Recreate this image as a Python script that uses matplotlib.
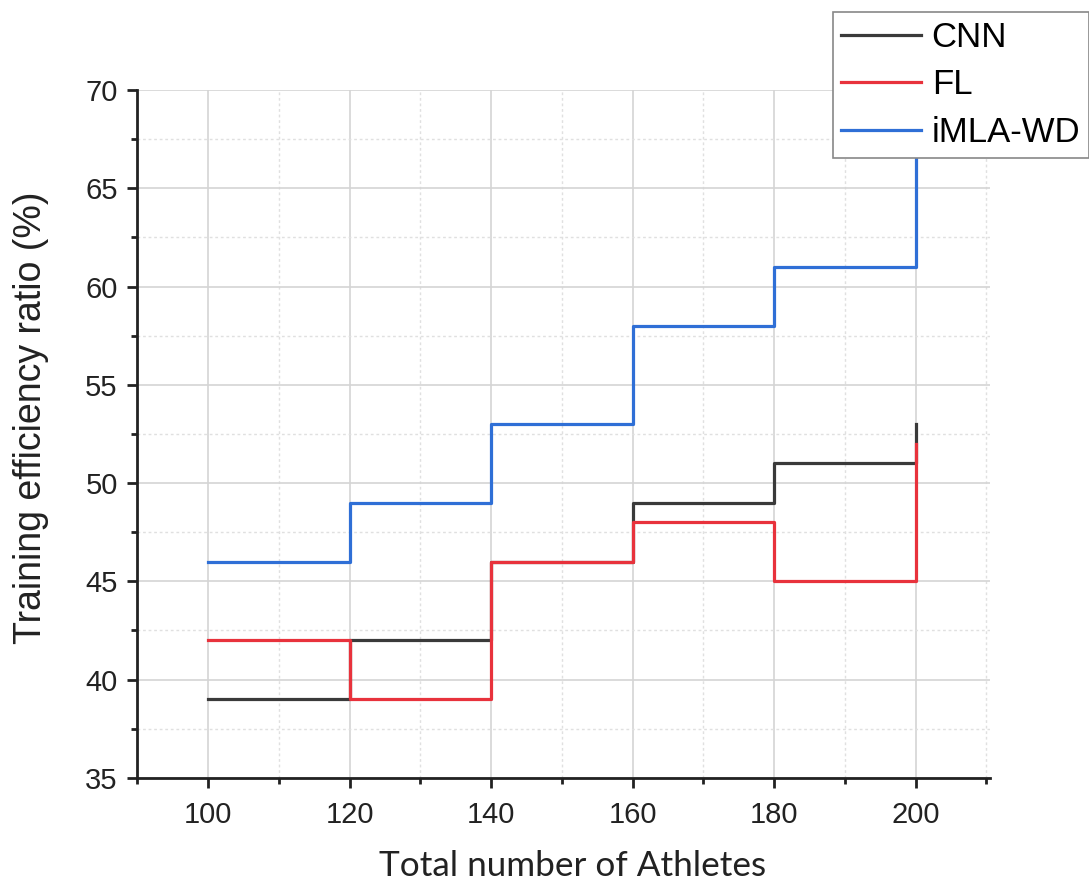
import matplotlib
matplotlib.use("Agg")
import matplotlib.pyplot as plt
from matplotlib.ticker import MultipleLocator

plt.rcParams['font.family'] = ['Liberation Sans', 'DejaVu Sans']

athletes = [100, 120, 140, 160, 180, 200]
cnn = [39, 42, 46, 49, 51, 53]
fl = [42, 39, 46, 48, 45, 52]
imla = [46, 49, 53, 58, 61, 70]
series_names = ["CNN", "FL", "iMLA-WD"]
colors = ["#3a3a3a", "#e8323c", "#2f6fd6"]

fig = plt.figure(figsize=(10.89, 8.91), dpi=100)
ax = fig.add_axes([0.126, 0.127, 0.783, 0.772])

for ys, name, c in zip([cnn, fl, imla], series_names, colors):
    ax.plot(athletes, ys, drawstyle='steps-post', color=c, lw=2.3, label=name, zorder=3)

ax.set_xlim(90, 210.5)
ax.set_ylim(35, 70)
ax.xaxis.set_major_locator(MultipleLocator(20))
ax.xaxis.set_minor_locator(MultipleLocator(10))
ax.yaxis.set_major_locator(MultipleLocator(5))
ax.yaxis.set_minor_locator(MultipleLocator(2.5))
ax.set_xticks([100, 120, 140, 160, 180, 200])

ax.grid(which='major', color='#d4d4d4', lw=1.2)
ax.grid(which='minor', color='#e0e0e0', lw=1.0, ls=(0, (2, 2)))
ax.set_axisbelow(True)

for s in ['top', 'right']:
    ax.spines[s].set_visible(False)
for s in ['left', 'bottom']:
    ax.spines[s].set_linewidth(2.0)
    ax.spines[s].set_color('#222222')

ax.tick_params(which='major', direction='out', length=7, width=2, labelsize=21, colors='#222222', pad=7)
ax.tick_params(axis='x', which='major', pad=10)
ax.tick_params(which='minor', direction='out', length=4.5, width=2, colors='#222222')

ax.set_xlabel("Total number of Athletes", fontsize=25.3, color='#222222',
              family=['Lato', 'DejaVu Sans'])
ax.xaxis.set_label_coords(0.51, -0.105)
ax.set_ylabel("Training efficiency ratio (%)", fontsize=27, color='#222222')
ax.yaxis.set_label_coords(-0.103, 0.523)

leg = fig.legend(loc='upper right', bbox_to_anchor=(1.0, 0.9865), fontsize=25,
                 frameon=True, fancybox=False, edgecolor='#888888', framealpha=1.0,
                 handlelength=2.3, handletextpad=0.3, borderpad=0.25,
                 labelspacing=0.42, borderaxespad=0.0)
leg.get_frame().set_linewidth(1.2)

fig.savefig("out.png", dpi=100)
